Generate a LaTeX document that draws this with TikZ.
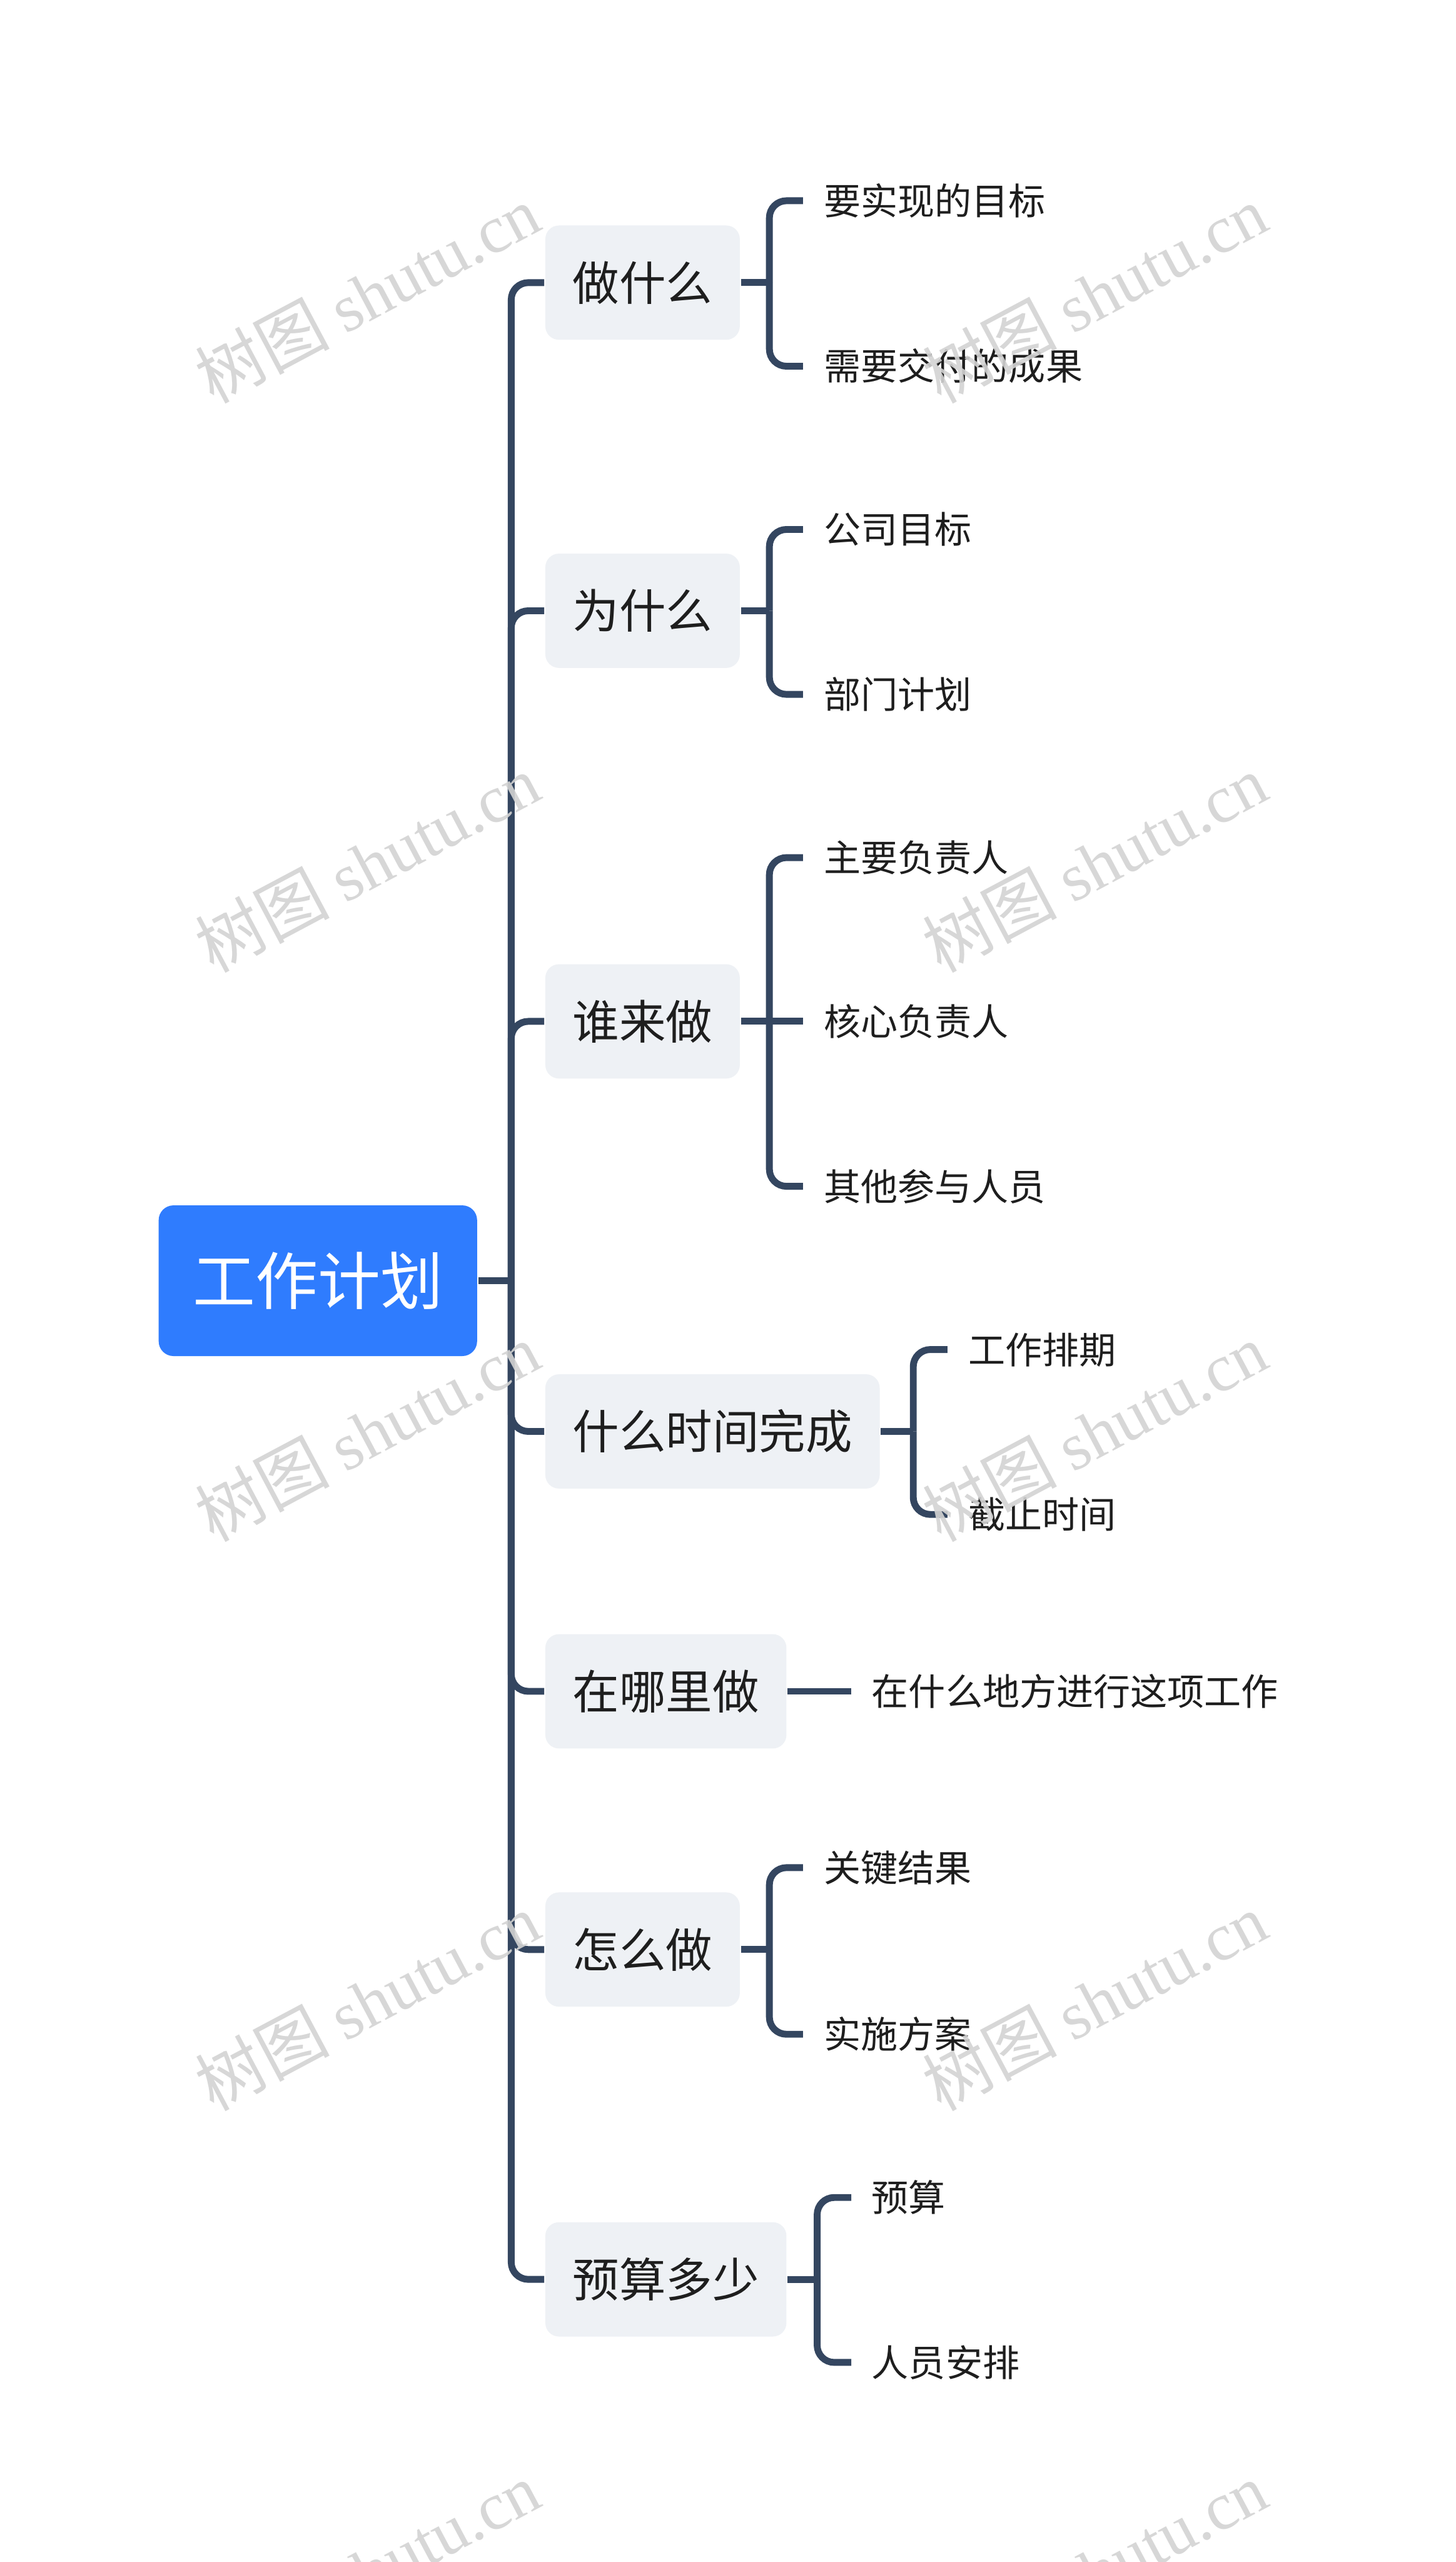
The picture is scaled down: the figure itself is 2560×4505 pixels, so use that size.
\documentclass[tikz,border=0pt]{standalone}
\usepackage{fontspec}
\setmainfont{Noto Sans CJK SC}
\newfontfamily\cjkf{Noto Sans CJK SC}
\newfontfamily\wmserif{Liberation Serif}
\definecolor{linec}{HTML}{344660}
\definecolor{rootc}{HTML}{2F7CFE}
\definecolor{boxc}{HTML}{EEF1F5}
\definecolor{txtc}{HTML}{1E1E1E}
\definecolor{wmc}{HTML}{D3D3D3}
\tikzset{
  rootbox/.style={fill=rootc, rounded corners=2.6pt, minimum width=56pt, minimum height=26.5pt,
    text=white, inner sep=0pt, font=\cjkf\fontsize{11}{13}\selectfont, text height=9.68pt, text depth=1.32pt},
  branchbox/.style={fill=boxc, rounded corners=2.4pt, anchor=west, minimum height=20.1pt,
    inner xsep=4.8pt, inner ysep=0pt, text=txtc, font=\cjkf\fontsize{8.2}{10}\selectfont,
    text height=7.22pt, text depth=0.98pt},
  leaftext/.style={anchor=west, inner sep=0pt, text=txtc, font=\cjkf\fontsize{6.5}{8}\selectfont,
    text height=5.72pt, text depth=0.78pt},
  conn/.style={draw=linec, line width=1.2pt},
  elbow/.style={conn, rounded corners=3pt},
  wmark/.style={text=wmc, opacity=0.9, rotate=28, inner sep=0pt, font=\fontsize{11.8}{14}\selectfont}
}
\begin{document}
\begin{tikzpicture}[x=0.1pt,y=-0.1pt]
\useasboundingbox (0,0) rectangle (2560,4505);
\fill[white] (0,0) rectangle (2560,4505);

% root
\node[rootbox] (root) at (559,2252) {工作计划};
\coordinate (tj) at (899,2252);

% branches
\node[branchbox] (b1) at (957,497) {做什么};
\node[branchbox] (b2) at (957,1074) {为什么};
\node[branchbox] (b3) at (957,1796) {谁来做};
\node[branchbox] (b4) at (957,2517) {什么时间完成};
\node[branchbox] (b5) at (957,2974) {在哪里做};
\node[branchbox] (b6) at (957,3428) {怎么做};
\node[branchbox] (b7) at (957,4008) {预算多少};

\draw[conn] (root.east) -- (tj);
\foreach \b in {b1,b2,b3,b4,b5,b6,b7} {
  \draw[elbow] (tj) |- (\b.west);
}

% leaves
\node[leaftext] (l11) at (1447,353) {要实现的目标};
\node[leaftext] (l12) at (1447,644) {需要交付的成果};
\node[leaftext] (l21) at (1447,931) {公司目标};
\node[leaftext] (l22) at (1447,1221) {部门计划};
\node[leaftext] (l31) at (1447,1508) {主要负责人};
\node[leaftext] (l32) at (1447,1796) {核心负责人};
\node[leaftext] (l33) at (1447,2086) {其他参与人员};
\node[leaftext] (l41) at (1701,2373) {工作排期};
\node[leaftext] (l42) at (1701,2663) {截止时间};
\node[leaftext] (l51) at (1531,2974) {在什么地方进行这项工作};
\node[leaftext] (l61) at (1447,3284) {关键结果};
\node[leaftext] (l62) at (1447,3577) {实施方案};
\node[leaftext] (l71) at (1531,3864) {预算};
\node[leaftext] (l72) at (1531,4154) {人员安排};

% bracket junctions
\coordinate (k1) at (1353,497);
\coordinate (k2) at (1353,1074);
\coordinate (k3) at (1353,1796);
\coordinate (k4) at (1606,2517);
\coordinate (k6) at (1353,3428);
\coordinate (k7) at (1437,4008);

\draw[conn] (b1.east) -- (k1);
\draw[conn] (b2.east) -- (k2);
\draw[conn] (b3.east) -- (k3);
\draw[conn] (b4.east) -- (k4);
\draw[conn] (b6.east) -- (k6);
\draw[conn] (b7.east) -- (k7);

% leaf connector ends
\coordinate (e11) at (1412,353);
\coordinate (e12) at (1412,644);
\coordinate (e21) at (1412,931);
\coordinate (e22) at (1412,1221);
\coordinate (e31) at (1412,1508);
\coordinate (e32) at (1412,1796);
\coordinate (e33) at (1412,2086);
\coordinate (e41) at (1666,2373);
\coordinate (e42) at (1666,2663);
\coordinate (e51) at (1497,2974);
\coordinate (e61) at (1412,3284);
\coordinate (e62) at (1412,3577);
\coordinate (e71) at (1497,3864);
\coordinate (e72) at (1497,4154);

\draw[elbow] (k1) |- (e11);
\draw[elbow] (k1) |- (e12);
\draw[elbow] (k2) |- (e21);
\draw[elbow] (k2) |- (e22);
\draw[elbow] (k3) |- (e31);
\draw[conn] (k3) -- (e32);
\draw[elbow] (k3) |- (e33);
\draw[elbow] (k4) |- (e41);
\draw[elbow] (k4) |- (e42);
\draw[conn] (b5.east) -- (e51);
\draw[elbow] (k6) |- (e61);
\draw[elbow] (k6) |- (e62);
\draw[elbow] (k7) |- (e71);
\draw[elbow] (k7) |- (e72);

% watermarks
\foreach \wy [count=\i] in {517,1518,2518,3519,4520} {
  \node[wmark] (wl\i) at (646,\wy) {树图 {\wmserif shutu.cn}};
  \node[wmark] (wr\i) at (1925,\wy) {树图 {\wmserif shutu.cn}};
}
\end{tikzpicture}
\end{document}
